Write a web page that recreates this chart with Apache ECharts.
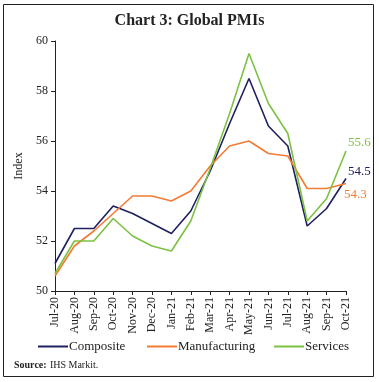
<!DOCTYPE html>
<html><head><meta charset="utf-8">
<script src="https://cdn.jsdelivr.net/npm/echarts@6/dist/echarts.min.js"></script>
<style>html,body{margin:0;padding:0;background:#fff}#c{width:379px;height:382px}</style>
</head><body><div id="c"></div>
<script>
var categories = ['Jul-20','Aug-20','Sep-20','Oct-20','Nov-20','Dec-20','Jan-21','Feb-21','Mar-21','Apr-21','May-21','Jun-21','Jul-21','Aug-21','Sep-21','Oct-21'];
var composite = [51.1,52.5,52.5,53.4,53.1,52.7,52.3,53.2,54.8,56.7,58.5,56.6,55.8,52.6,53.3,54.5];
var manufacturing = [50.6,51.8,52.4,53.1,53.8,53.8,53.6,54.0,55.0,55.8,56.0,55.5,55.4,54.1,54.1,54.3];
var services = [50.7,52.0,52.0,52.9,52.2,51.8,51.6,52.8,54.9,57.1,59.5,57.5,56.3,52.8,53.7,55.6];
var yTicks = [50,52,54,56,58,60];

var font = 'Liberation Serif';
function endLabel(color, offset) {
  return {show: true, offset: offset, distance: 2, formatter: function(p){return Number(p.value).toFixed(1);}, color: color, fontFamily: font, fontSize: 13};
}
function legendFor(name, left) {
  return {data: [name], top: 335, left: left, itemWidth: 30, itemHeight: 2, icon: 'rect', itemGap: 0,
    textStyle: {fontFamily: font, fontSize: 13, color: '#222', padding: [0,0,0,-4]}};
}
var chart = echarts.init(document.getElementById('c'));
chart.setOption({
  animation: false,
  title: {text: 'Chart 3: Global PMIs', left: 'center', top: 8, textStyle: {fontFamily: font, fontWeight: 'bold', fontSize: 16, color: '#222'}},
  graphic: [
    {type: 'rect', shape: {x: 3.5, y: 4.5, width: 370, height: 372}, style: {fill: 'none', stroke: '#222', lineWidth: 1}},
    {type: 'text', left: 14, top: 359, style: {rich: {b: {fontWeight: 'bold', fontFamily: font, fontSize: 10, fill: '#222'}, n: {fontFamily: font, fontSize: 10, fill: '#222'}}, text: '{b|Source:} {n|IHS Markit.}'}}
  ],
  legend: [legendFor('Composite', 33), legendFor('Manufacturing', 142), legendFor('Services', 269)],
  grid: {left: 55, right: 33, top: 41, bottom: 91},
  xAxis: {
    type: 'category', data: categories, boundaryGap: false,
    axisLine: {lineStyle: {color: '#222', width: 1}},
    axisTick: {show: true, alignWithLabel: true, length: 4, lineStyle: {color: '#222'}},
    axisLabel: {rotate: 90, fontFamily: font, fontSize: 12, color: '#222', margin: 6, interval: 0}
  },
  yAxis: {
    type: 'value', min: 50, max: 60, interval: 2, name: 'Index', nameLocation: 'middle', nameGap: 24,
    nameTextStyle: {fontFamily: font, fontSize: 12, color: '#222'},
    axisLine: {show: true, lineStyle: {color: '#222', width: 1}},
    axisTick: {show: true, length: 4, lineStyle: {color: '#222'}},
    splitLine: {show: false},
    axisLabel: {fontFamily: font, fontSize: 12, color: '#222', margin: 7, formatter: function(v){return yTicks.indexOf(v) >= 0 ? String(v) : '';}}
  },
  series: [
    {name: 'Composite', type: 'line', data: composite, symbol: 'none', lineStyle: {color: '#1f2060', width: 1.6}, itemStyle: {color: '#1f2060'}, endLabel: endLabel('#1f2060', [0,-7])},
    {name: 'Manufacturing', type: 'line', data: manufacturing, symbol: 'none', lineStyle: {color: '#f47b32', width: 1.6}, itemStyle: {color: '#f47b32'}, endLabel: endLabel('#f47b32', [-4,11])},
    {name: 'Services', type: 'line', data: services, symbol: 'none', lineStyle: {color: '#7cc242', width: 1.6}, itemStyle: {color: '#7cc242'}, endLabel: endLabel('#7cc242', [0,-8])}
  ]
});
</script></body></html>
